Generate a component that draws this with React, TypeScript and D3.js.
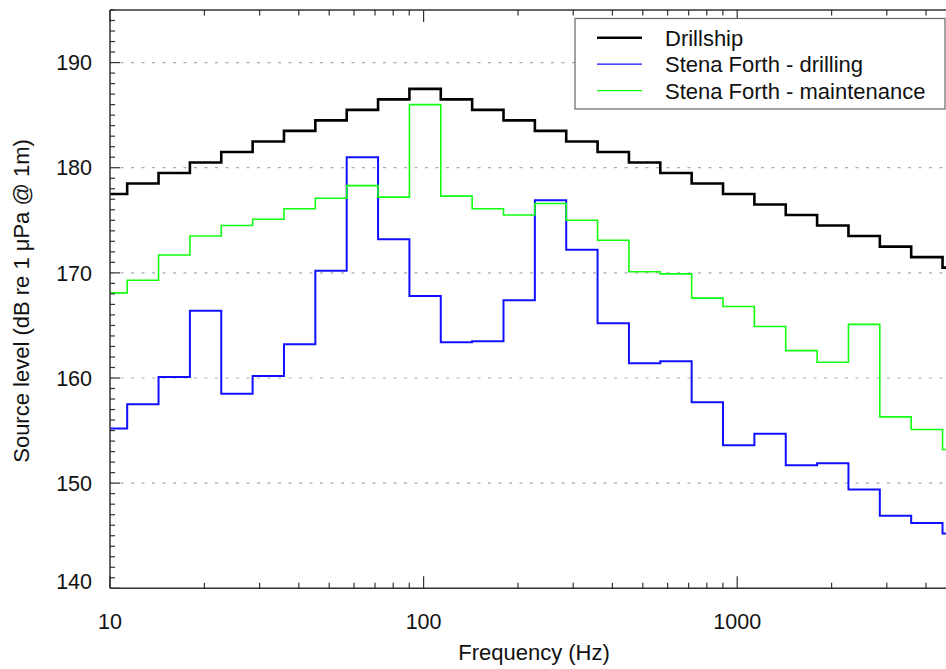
import React from "react";
import * as d3 from "d3";

// One-third-octave band centre frequencies (Hz)
const bandCenters: number[] = [
  10, 12.5, 16, 20, 25, 31.5, 40, 50, 63, 80, 100, 125, 160, 200, 250, 315,
  400, 500, 630, 800, 1000, 1250, 1600, 2000, 2500, 3150, 4000, 5000,
];

const drillship: number[] = [
  177.5, 178.5, 179.5, 180.5, 181.5, 182.5, 183.5, 184.5, 185.5, 186.5, 187.5,
  186.5, 185.5, 184.5, 183.5, 182.5, 181.5, 180.5, 179.5, 178.5, 177.5, 176.5,
  175.5, 174.5, 173.5, 172.5, 171.5, 170.5,
];

const stenaDrilling: number[] = [
  155.2, 157.5, 160.1, 166.4, 158.5, 160.2, 163.2, 170.2, 181.0, 173.2, 167.8,
  163.4, 163.5, 167.4, 176.9, 172.2, 165.2, 161.4, 161.6, 157.7, 153.6, 154.7,
  151.7, 151.9, 149.4, 146.9, 146.2, 145.2,
];

const stenaMaintenance: number[] = [
  168.1, 169.3, 171.7, 173.5, 174.5, 175.1, 176.1, 177.1, 178.3, 177.2, 186.0,
  177.3, 176.1, 175.5, 176.6, 175.0, 173.1, 170.1, 169.9, 167.6, 166.8, 164.9,
  162.6, 161.5, 165.1, 156.3, 155.1, 153.2,
];

const seriesNames: string[] = [
  "Drillship",
  "Stena Forth - drilling",
  "Stena Forth - maintenance",
];
const seriesColors: string[] = ["#000000", "#1010ff", "#10ff10"];
const seriesWidths: number[] = [2.6, 2, 1.6];
const legendWidths: number[] = [2.6, 1.3, 1.3];

const xTickLabels: number[] = [10, 100, 1000];
const yTickLabels: number[] = [140, 150, 160, 170, 180, 190];

const W = 946;
const H = 669;
const left = 110;
const top = 10;
const bottom = 588.3;
const decadePx = 313.6;

const FONT = "'Liberation Sans', Arial, Helvetica, sans-serif";

export default function App() {
  const x = d3
    .scaleLog()
    .domain([10, 10000])
    .range([left, left + 3 * decadePx]);
  const y = d3.scaleLinear().domain([140, 195]).range([bottom, top]);

  // band edges (exact one-third-octave)
  const idx = bandCenters.map((_, i) => i);
  const lowEdge = (i: number) => Math.pow(10, 1 + (i - 0.5) / 10);
  const highEdge = (i: number) => Math.pow(10, 1 + (i + 0.5) / 10);

  const stair = (vals: number[]) => {
    const pts: [number, number][] = idx.map((i) => [x(lowEdge(i)) + 1.5, y(vals[i])]);
    const last = vals.length - 1;
    pts.push([x(highEdge(last)) + 1.5, y(vals[last])]);
    return d3.line().curve(d3.curveStepAfter)(pts) || "";
  };

  const allSeries = [drillship, stenaDrilling, stenaMaintenance];

  // minor ticks
  const xMinor: number[] = [];
  for (let dec = 10; dec < 10000; dec *= 10) {
    for (let m = 2; m <= 9; m++) xMinor.push(dec * m);
  }
  const yMinor: number[] = d3.range(140, 196, 1);

  const axisColor = "#333";
  const rightEdge = W + 40;

  return (
    <svg
      width={W}
      height={H}
      style={{ position: "absolute", left: 0, top: 0, background: "#fff" }}
      fontFamily={FONT}
    >
      <defs>
        <clipPath id="plotclip">
          <rect x={left} y={top} width={rightEdge - left} height={bottom - top} />
        </clipPath>
      </defs>
      <rect x={0} y={0} width={W} height={H} fill="#fff" />

      {/* grid */}
      {yTickLabels
        .filter((v) => v > 140)
        .map((v) => (
          <line
            key={"g" + v}
            x1={left}
            x2={rightEdge}
            y1={y(v)}
            y2={y(v)}
            stroke="#aaaaaa"
            strokeWidth={1.2}
            strokeDasharray="3 7.5"
          />
        ))}

      {/* series */}
      <g clipPath="url(#plotclip)">
        {allSeries.map((s, k) => (
          <path
            key={"s" + k}
            d={stair(s)}
            fill="none"
            stroke={seriesColors[k]}
            strokeWidth={seriesWidths[k]}
          />
        ))}
      </g>

      {/* axes frame */}
      <line x1={left} x2={left} y1={top} y2={bottom} stroke={axisColor} strokeWidth={1.5} />
      <line x1={left} x2={rightEdge} y1={bottom} y2={bottom} stroke={axisColor} strokeWidth={1.5} />
      <line x1={left} x2={rightEdge} y1={top} y2={top} stroke={axisColor} strokeWidth={1.5} />

      {/* y ticks */}
      {yMinor.map((v) => {
        const major = v % 10 === 0;
        return (
          <line
            key={"yt" + v}
            x1={left}
            x2={left + (major ? 10 : 5)}
            y1={y(v)}
            y2={y(v)}
            stroke={axisColor}
            strokeWidth={1.2}
          />
        );
      })}
      {/* x ticks bottom and top */}
      {xMinor.concat(xTickLabels).map((f) => {
        const major = xTickLabels.includes(f);
        const len = major ? 12 : 5.5;
        return (
          <g key={"xt" + f}>
            <line x1={x(f)} x2={x(f)} y1={bottom} y2={bottom - len} stroke={axisColor} strokeWidth={1.2} />
            <line x1={x(f)} x2={x(f)} y1={top} y2={top + len} stroke={axisColor} strokeWidth={1.2} />
          </g>
        );
      })}

      {/* tick labels */}
      {xTickLabels.map((f) => (
        <text key={"xl" + f} x={x(f)} y={629} textAnchor="middle" fontSize={21.5} fill="#111">
          {f}
        </text>
      ))}
      {yTickLabels.map((v) => (
        <text
          key={"yl" + v}
          x={92}
          y={y(v) - (v === 140 ? 7 : 0)}
          dy="0.36em"
          textAnchor="end"
          fontSize={21.5}
          fill="#111"
        >
          {v}
        </text>
      ))}

      {/* axis titles */}
      <text x={534} y={660} textAnchor="middle" fontSize={22} fill="#111">
        Frequency (Hz)
      </text>
      <text
        transform={`translate(29, 301) rotate(-90)`}
        textAnchor="middle"
        fontSize={22}
        fill="#111"
      >
        Source level (dB re 1 μPa @ 1m)
      </text>

      {/* legend */}
      <g>
        <rect x={575} y={18.5} width={370} height={90.5} fill="#fff" stroke="#666" strokeWidth={1.2} />
        {seriesNames.map((n, k) => {
          const ly = 37.7 + k * 26.5;
          return (
            <g key={"lg" + k}>
              <line x1={597} x2={642} y1={ly} y2={ly} stroke={seriesColors[k]} strokeWidth={legendWidths[k]} />
              <text x={665} y={ly} dy="0.36em" fontSize={22} fill="#111">
                {n}
              </text>
            </g>
          );
        })}
      </g>
    </svg>
  );
}
